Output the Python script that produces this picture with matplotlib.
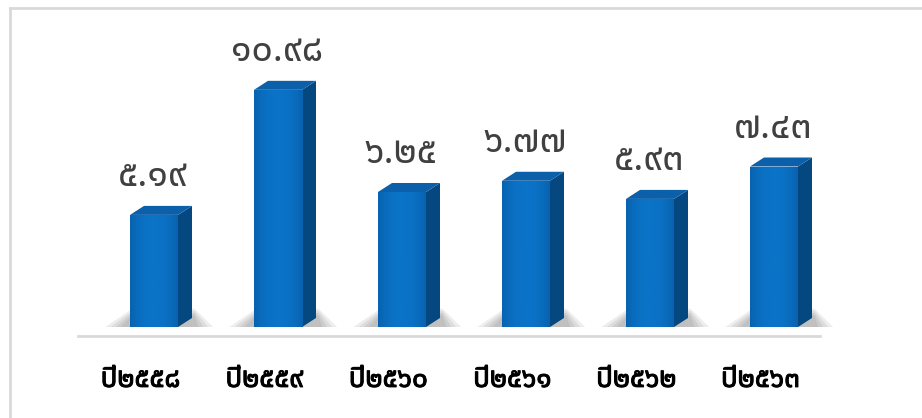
import matplotlib.pyplot as plt
import matplotlib.patheffects as pe
import numpy as np
from matplotlib.colors import LinearSegmentedColormap
from matplotlib.patches import Polygon

plt.rcParams['font.family'] = ['Noto Sans Thai', 'Loma', 'Garuda', 'Norasi', 'DejaVu Sans']

years = ['ปี๒๕๕๘', 'ปี๒๕๕๙', 'ปี๒๕๖๐', 'ปี๒๕๖๑', 'ปี๒๕๖๒', 'ปี๒๕๖๓']
values = [5.19, 10.98, 6.25, 6.77, 5.93, 7.43]
value_labels = ['๕.๑๙', '๑๐.๙๘', '๖.๒๕', '๖.๗๗', '๕.๙๓', '๗.๔๓']

W, H = 922, 418
fig = plt.figure(figsize=(W / 100, H / 100), dpi=100)

# axes laid out so one category step is 124 px and one unit is 21.6 px
step_px, unit_px = 124.0, 21.6
base_px = 91.0
ax = fig.add_axes([0, base_px / H, 1, (H - base_px - 20) / H])
ax.set_xlim(-154 / step_px, (W - 154) / step_px)
ax.set_ylim(0, (H - base_px - 20) / unit_px)
ax.axis('off')

front = '#0a70c2'
side = '#05487f'
top = '#0c5fa9'
width = 48 / step_px
dx, dy = 14 / step_px, 9 / unit_px
face_cmap = LinearSegmentedColormap.from_list('face', ['#0862b0', '#0b74c8'])

x = np.arange(len(values))
for xi, v in zip(x, values):
    l, r = xi - width / 2, xi + width / 2
    # soft floor shadow behind the base
    for k in range(4):
        g = 0.045 * (3 - k)
        ax.add_patch(Polygon([(l - 0.10 - g, -0.14), (r + dx + 0.06 + g, -0.14),
                              (r + dx + 0.02, 0.55 + 0.1 * (3 - k)), (l + 0.02, 0.55 + 0.1 * (3 - k))],
                             closed=True, facecolor='#505050', edgecolor='none',
                             alpha=0.1, zorder=1))
    ax.add_patch(Polygon([(r, 0), (r + dx, dy), (r + dx, v + dy), (r, v)],
                         closed=True, facecolor=side, edgecolor='none', zorder=2))
    ax.add_patch(Polygon([(l, v), (l + dx, v + dy), (r + dx, v + dy), (r, v)],
                         closed=True, facecolor=top, edgecolor='none', zorder=2))
    bar = ax.bar(xi, v, width=width, color=front, zorder=3)[0]
    # light horizontal gradient on the front face
    grad = np.linspace(0, 1, 64)
    grad = 1 - 4 * (grad - 0.5) ** 2
    im = ax.imshow(grad[np.newaxis, :], cmap=face_cmap, extent=[l, r, 0, v],
                   aspect='auto', zorder=4)
    im.set_clip_path(bar)

for xi, v, lab in zip(x, values, value_labels):
    ax.text(xi - 0.01, v + dy + 0.5, lab, ha='center', va='bottom',
            fontsize=27, color='#404040')

for xi, lab in zip(x, years):
    ax.text(xi - 0.11, -2.45, lab, ha='center', va='center', fontsize=20,
            color='#000000', clip_on=False,
            path_effects=[pe.withStroke(linewidth=0.7, foreground='#000000')])

# floor edge
ax.plot([-76 / step_px, 666 / step_px], [-9 / unit_px] * 2, color='#d9d9d9',
        lw=2, clip_on=False, zorder=0)

# chart area border (left and top edges visible)
fig.add_artist(plt.Line2D([9.5 / W, 9.5 / W], [0, 1 - 7.5 / H], color='#d9d9d9', lw=2))
fig.add_artist(plt.Line2D([9.5 / W, 1], [1 - 7.5 / H, 1 - 7.5 / H], color='#d9d9d9', lw=2))

fig.savefig('out.png', dpi=100, facecolor='white')
